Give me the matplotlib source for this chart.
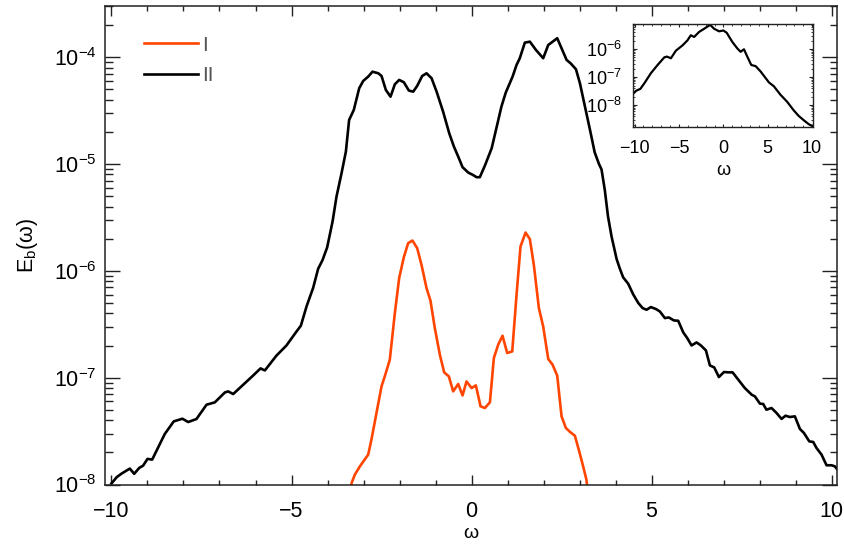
import numpy as np
import matplotlib
matplotlib.use("Agg")
import matplotlib.pyplot as plt
from matplotlib.ticker import MultipleLocator, LogLocator, NullFormatter

plt.rcParams['font.family'] = ['Liberation Sans', 'DejaVu Sans']
plt.rcParams['mathtext.fontset'] = 'custom'
plt.rcParams['mathtext.rm'] = 'Liberation Sans'
plt.rcParams['mathtext.it'] = 'Liberation Sans:italic'
plt.rcParams['axes.unicode_minus'] = True

# ---- data: omega and log10(E_b) ----
omega_II = [-10.00, -9.85, -9.72, -9.49, -9.37, -9.23, -9.12, -9.00, -8.87, -8.71,
            -8.52, -8.27, -8.03, -7.87, -7.64, -7.36, -7.13, -6.85, -6.76, -6.62,
            -6.34, -6.07, -5.86, -5.74, -5.42, -5.14, -4.86, -4.74, -4.58, -4.40,
            -4.26, -4.14, -4.01, -3.86, -3.75, -3.61, -3.49, -3.40, -3.27, -3.12,
            -3.01, -2.87, -2.75, -2.59, -2.50, -2.38, -2.25, -2.13, -2.01, -1.88,
            -1.74, -1.62, -1.51, -1.37, -1.25, -1.11, -0.97, -0.79, -0.62, -0.49,
            -0.37, -0.25, -0.09, 0.03, 0.14, 0.23, 0.37, 0.56, 0.69, 0.83,
            0.95, 1.14, 1.25, 1.34, 1.48, 1.62, 1.79, 1.99, 2.13, 2.38,
            2.50, 2.64, 2.75, 2.90, 3.01, 3.12, 3.29, 3.42, 3.54, 3.61,
            3.70, 3.79, 3.89, 4.03, 4.12, 4.21, 4.35, 4.49, 4.63, 4.75,
            4.86, 4.98, 5.12, 5.23, 5.37, 5.48, 5.62, 5.74, 5.88, 5.99,
            6.11, 6.25, 6.37, 6.51, 6.62, 6.74, 6.87, 7.01, 7.13, 7.25,
            7.41, 7.59, 7.78, 7.87, 8.01, 8.10, 8.19, 8.33, 8.47, 8.61,
            8.72, 8.84, 8.98, 9.12, 9.23, 9.38, 9.49, 9.58, 9.72, 9.86,
            10.00, 10.09, 10.16]
log10_E_II = [-7.99, -7.93, -7.898, -7.851, -7.90, -7.845, -7.823, -7.76, -7.767, -7.658,
              -7.527, -7.409, -7.384, -7.415, -7.387, -7.253, -7.231, -7.138, -7.128, -7.153,
              -7.066, -6.981, -6.913, -6.932, -6.794, -6.698, -6.567, -6.513, -6.33, -6.16,
              -5.98, -5.90, -5.78, -5.538, -5.304, -5.085, -4.883, -4.587, -4.493, -4.29,
              -4.222, -4.181, -4.135, -4.15, -4.175, -4.306, -4.369, -4.253, -4.212, -4.234,
              -4.312, -4.322, -4.268, -4.175, -4.15, -4.196, -4.322, -4.509, -4.711, -4.836,
              -4.930, -5.029, -5.08, -5.10, -5.123, -5.123, -5.015, -4.851, -4.664, -4.462,
              -4.331, -4.181, -4.072, -4.009, -3.863, -3.854, -3.932, -4.009, -3.885, -3.822,
              -3.916, -4.025, -4.056, -4.112, -4.243, -4.415, -4.68, -4.89, -5.00, -5.05,
              -5.24, -5.49, -5.68, -5.89, -5.98, -6.06, -6.12, -6.22, -6.30, -6.348,
              -6.364, -6.339, -6.357, -6.380, -6.442, -6.436, -6.464, -6.467, -6.576, -6.629,
              -6.698, -6.670, -6.698, -6.745, -6.885, -6.904, -6.994, -6.947, -6.950, -6.950,
              -7.019, -7.097, -7.159, -7.175, -7.243, -7.246, -7.300, -7.284, -7.330, -7.386,
              -7.356, -7.368, -7.362, -7.480, -7.517, -7.596, -7.602, -7.658, -7.720, -7.820,
              -7.820, -7.83, -7.86]

omega_I = [-3.45, -3.33, -3.24, -3.10, -2.87, -2.78, -2.64, -2.50, -2.41, -2.27,
           -2.13, -2.01, -1.88, -1.76, -1.64, -1.51, -1.39, -1.25, -1.14, -1.02,
           -0.88, -0.76, -0.63, -0.51, -0.37, -0.25, -0.14, 0.00, 0.12, 0.25,
           0.37, 0.51, 0.62, 0.74, 0.86, 0.99, 1.13, 1.25, 1.36, 1.50,
           1.62, 1.73, 1.87, 1.99, 2.13, 2.25, 2.38, 2.50, 2.62, 2.75,
           2.87, 2.99, 3.10, 3.19, 3.30]
log10_E_I = [-8.25, -7.985, -7.907, -7.83, -7.72, -7.58, -7.33, -7.081, -6.988, -6.832,
             -6.395, -6.067, -5.871, -5.74, -5.716, -5.787, -5.943, -6.161, -6.28, -6.535,
             -6.785, -6.95, -6.988, -7.128, -7.059, -7.166, -7.035, -7.097, -7.072, -7.268,
             -7.284, -7.231, -6.816, -6.691, -6.607, -6.769, -6.754, -6.224, -5.772, -5.641,
             -5.703, -5.943, -6.348, -6.52, -6.825, -6.878, -6.981, -7.362, -7.471, -7.512,
             -7.543, -7.689, -7.83, -7.954, -8.25]

omega_inset = [-10.18, -9.84, -9.35, -8.90, -8.16, -7.41, -6.66, -6.37, -5.91, -5.35,
               -4.60, -4.04, -3.67, -3.29, -2.73, -2.17, -1.49, -1.04, -0.48, 0.00,
               0.37, 1.01, 1.57, 1.94, 2.32, 2.69, 3.14, 3.63, 4.19, 5.13,
               5.69, 6.43, 7.18, 7.93, 8.50, 9.06, 9.62, 10.15]
log10_E_inset = [-7.60, -7.49, -7.42, -7.22, -6.86, -6.57, -6.30, -6.27, -6.33, -6.06,
                 -5.87, -5.69, -5.51, -5.57, -5.39, -5.28, -5.14, -5.28, -5.37, -5.34,
                 -5.42, -5.75, -5.98, -6.10, -6.01, -6.27, -6.57, -6.61, -6.80, -7.19,
                 -7.33, -7.63, -7.88, -8.19, -8.39, -8.54, -8.68, -8.77]

labels = ['I', 'II']
colors = ['#ff4500', 'black']

# ---- figure ----
fig = plt.figure(figsize=(8.45, 5.46), dpi=100)
ax = fig.add_axes([105/845, 1 - 484.5/546, (837 - 105)/845, (484.5 - 6)/546])

ax.plot(omega_I, 10 ** np.array(log10_E_I), color=colors[0], lw=1.9, label=labels[0])
ax.plot(omega_II, 10 ** np.array(log10_E_II), color=colors[1], lw=1.9, label=labels[1])

ax.set_yscale('log')
ax.set_xlim(-10.18, 10.15)
ax.set_ylim(1e-8, 10 ** -3.52)
ax.xaxis.set_major_locator(MultipleLocator(5))
ax.xaxis.set_minor_locator(MultipleLocator(1))
ax.yaxis.set_major_locator(LogLocator(base=10, numticks=20))
ax.yaxis.set_minor_locator(LogLocator(base=10, subs=np.arange(2, 10), numticks=20))
ax.yaxis.set_minor_formatter(NullFormatter())

ax.tick_params(axis='both', which='both', direction='in', top=True, right=True,
               colors='#222222', labelcolor='black')
ax.tick_params(axis='y', which='major', length=10.8, width=1.0, labelsize=15.5, pad=6)
ax.tick_params(axis='y', which='minor', length=5.4, width=1.0)
ax.tick_params(axis='x', which='major', length=6.9, width=1.0, labelsize=15.5, pad=12)
ax.tick_params(axis='x', which='minor', length=3.4, width=1.0)
for s in ax.spines.values():
    s.set_linewidth(1.1)
    s.set_color('#222222')

ax.set_xlabel('ω', fontsize=14, labelpad=2)
ax.set_ylabel(r'E$_\mathrm{b}$(ω)', fontsize=15.5, labelpad=10)

leg = ax.legend(loc='upper left', bbox_to_anchor=(0.027, 0.977), frameon=False,
                fontsize=15, handlelength=2.6, handletextpad=0.2, labelspacing=0.55,
                labelcolor='#555555')

# ---- inset ----
axi = fig.add_axes([633/845, 1 - 127.3/546, (813.5 - 633)/845, (127.3 - 24.3)/546])
axi.plot(omega_inset, 10 ** np.array(log10_E_inset), color='black', lw=1.6)
axi.set_yscale('log')
axi.set_xlim(-10.18, 10.15)
axi.set_ylim(10 ** -8.79, 10 ** -5.12)
axi.xaxis.set_major_locator(MultipleLocator(5))
axi.xaxis.set_minor_locator(MultipleLocator(1))
axi.yaxis.set_major_locator(LogLocator(base=10, numticks=20))
axi.yaxis.set_minor_locator(LogLocator(base=10, subs=np.arange(2, 10), numticks=20))
axi.yaxis.set_minor_formatter(NullFormatter())
axi.tick_params(axis='both', which='both', direction='in', top=True, right=True,
                colors='#222222', labelcolor='black')
axi.tick_params(axis='y', which='major', length=3.2, width=0.8, labelsize=13, pad=8)
axi.tick_params(axis='y', which='minor', length=1.6, width=0.6)
axi.tick_params(axis='x', which='major', length=2.2, width=0.8, labelsize=13, pad=9)
axi.tick_params(axis='x', which='minor', length=1.2, width=0.6)
for s in axi.spines.values():
    s.set_linewidth(1.0)
    s.set_color('#222222')
axi.set_xlabel('ω', fontsize=13, labelpad=4)

fig.savefig('out.png', dpi=100)
